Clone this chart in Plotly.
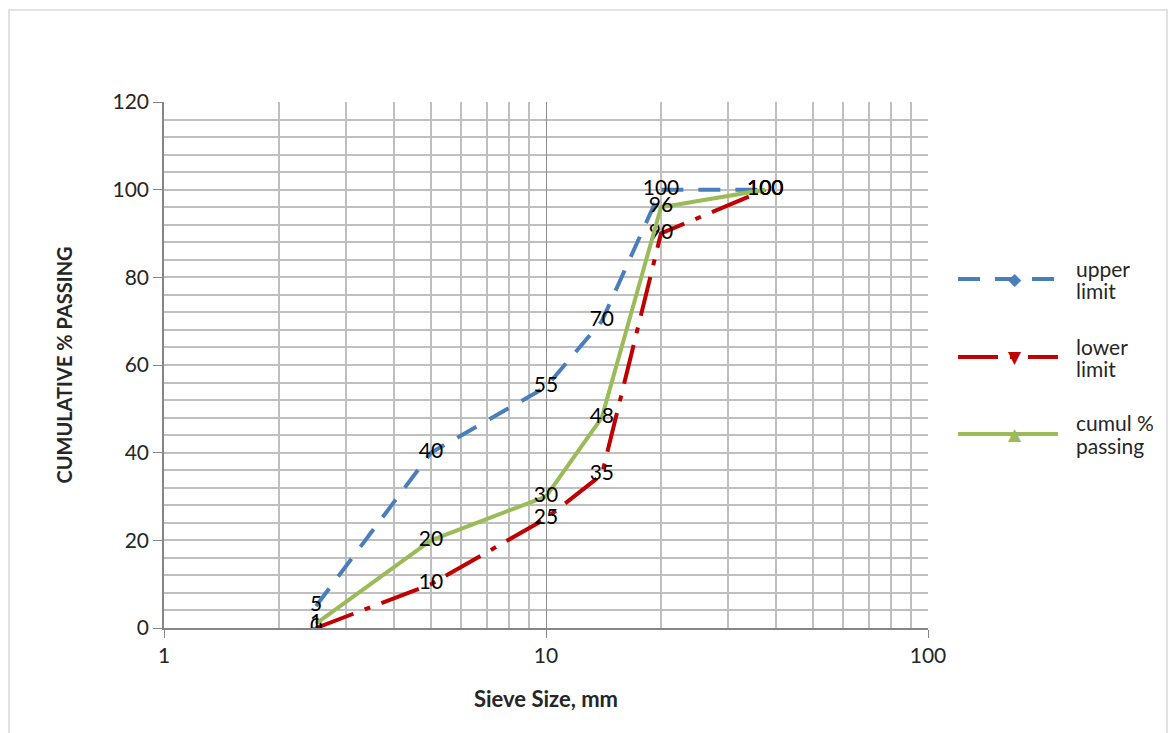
import plotly.graph_objects as go

# Sieve sizes (mm) and percentage passing for the grading envelope
sieve_mm = [2.5, 5, 10, 14, 20, 37.5]
upper_limit = [5, 40, 55, 70, 100, 100]
lower_limit = [0, 10, 25, 35, 90, 100]
cumul_passing = [1, 20, 30, 48, 96, 100]

y_ticks = [0, 20, 40, 60, 80, 100, 120]
x_ticks = [1, 10, 100]

BLUE = "#4A7EBB"
RED = "#C00000"
GREEN = "#9BBB59"
FONT = "Lato, Carlito, 'Open Sans', sans-serif"
TXT = "#262626"

series = [
    (["upper", "limit"], upper_limit, BLUE, "22px,15px", "\u25C6"),
    (["lower", "limit"], lower_limit, RED, "40px,12px,6px,12px", "\u25BC"),
    (["cumul %", "passing"], cumul_passing, GREEN, "solid", "\u25B2"),
]

fig = go.Figure()

for lines, vals, color, dash, _ in series:
    # data line with value labels centred on each point
    fig.add_trace(go.Scatter(
        x=sieve_mm, y=vals, mode="lines+text",
        text=[str(v) for v in vals], textposition="middle center",
        textfont=dict(family=FONT, size=21, color="#000000"),
        line=dict(color=color, width=4, dash=dash),
        showlegend=False, hoverinfo="x+y", name=" ".join(lines),
    ))

grid_col = "#BFBFBF"
PLOT_L, PLOT_R, PLOT_T, PLOT_B = 164, 928, 102, 628
PW, PH = PLOT_R - PLOT_L, PLOT_B - PLOT_T


def px_x(px):
    return (px - PLOT_L) / PW


def px_y(py):
    return (PLOT_B - py) / PH


fig.update_layout(
    width=1173, height=733,
    margin=dict(l=PLOT_L, r=1173 - PLOT_R, t=PLOT_T, b=733 - PLOT_B),
    paper_bgcolor="white", plot_bgcolor="white",
    font=dict(family=FONT, size=21, color=TXT),
    showlegend=False,
    xaxis=dict(
        type="log", range=[0, 2],
        tickvals=x_ticks, ticktext=[str(v) for v in x_ticks],
        ticks="outside", ticklen=8, tickcolor="#868686",
        showline=True, linecolor="#868686", linewidth=1.5,
        showgrid=True, gridcolor="#8C8C8C", gridwidth=1,
        minor=dict(
            tickvals=[2, 3, 4, 5, 6, 7, 8, 9, 20, 30, 40, 50, 60, 70, 80, 90],
            showgrid=True, gridcolor=grid_col, gridwidth=1.5, ticks="",
        ),
        title=dict(text="<b>Sieve Size, mm</b>", font=dict(family=FONT, size=22, color=TXT), standoff=26),
        tickfont=dict(family=FONT, size=21, color=TXT),
        zeroline=False,
    ),
    yaxis=dict(
        range=[0, 120],
        tickvals=y_ticks,
        ticks="outside", ticklen=9, tickcolor="#868686",
        showline=True, linecolor="#868686", linewidth=1.5,
        showgrid=False,
        minor=dict(
            tickvals=[v for v in range(4, 120, 4)],
            showgrid=True, gridcolor=grid_col, gridwidth=1.5, ticks="",
        ),
        title=dict(text="<b>CUMULATIVE % PASSING</b>", font=dict(family=FONT, size=20, color=TXT), standoff=35),
        tickfont=dict(family=FONT, size=21, color=TXT),
        zeroline=False,
    ),
)

# light outer frame around the chart area
fig.add_shape(
    type="rect", xref="paper", yref="paper",
    x0=px_x(9), x1=px_x(1167), y0=px_y(745), y1=px_y(10),
    line=dict(color="#D9D9D9", width=1.5), fillcolor="rgba(0,0,0,0)", layer="below",
)

# legend: line sample, marker glyph and two-line label for each series
legend_rows = [279, 357, 434]
for (lines, _, color, dash, glyph), ly in zip(series, legend_rows):
    fig.add_shape(
        type="line", xref="paper", yref="paper",
        x0=px_x(958), x1=px_x(1058), y0=px_y(ly), y1=px_y(ly),
        line=dict(color=color, width=4, dash=dash),
    )
    fig.add_annotation(
        xref="paper", yref="paper", x=px_x(1015), y=px_y(ly),
        text=glyph, showarrow=False, xanchor="center", yanchor="middle",
        font=dict(family="DejaVu Sans", size=17, color=color),
    )
    for k, part in enumerate(lines):
        fig.add_annotation(
            xref="paper", yref="paper", x=px_x(1074), y=px_y(ly - 11 + 22 * k),
            text=part, showarrow=False, xanchor="left", yanchor="middle", align="left",
            font=dict(family=FONT, size=21, color=TXT),
        )

fig.write_html("out.html")
